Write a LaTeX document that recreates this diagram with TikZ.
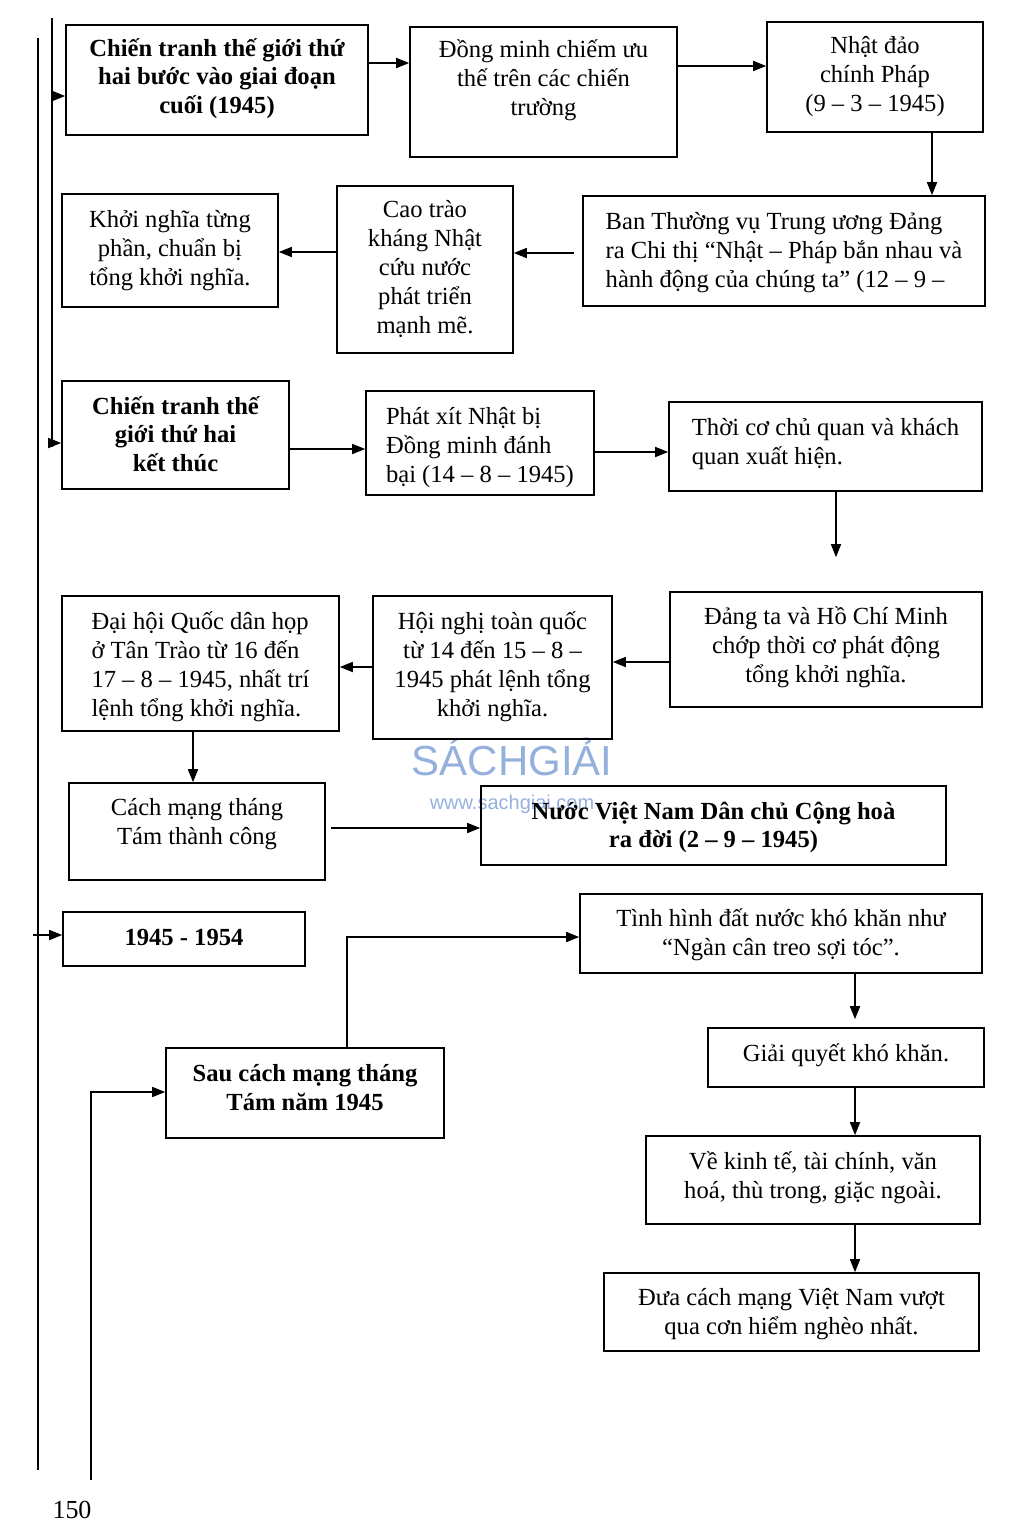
\documentclass[tikz,border=0pt]{standalone}
\usepackage{fontspec}
\setmainfont{Liberation Serif}
\newfontfamily\wmfont{Liberation Sans}
\usetikzlibrary{arrows.meta,fit}
\definecolor{wmblue}{RGB}{150,176,222}
\newcommand{\tb}[2][0pt]{\raisebox{\dimexpr#1-4.1pt\relax}[0pt][0pt]{\begin{tabular}{@{}c@{}}#2\end{tabular}}}
\newcommand{\tbl}[2][0pt]{\raisebox{\dimexpr#1-4.1pt\relax}[0pt][0pt]{\begin{tabular}{@{}l@{}}#2\end{tabular}}}
\tikzset{
  x=0.5pt,y=-0.5pt,
  box/.style={draw,line width=0.8pt,inner sep=0pt,font=\fontsize{12.3}{14.5}\selectfont},
  bbox/.style={box,font=\fontsize{12.3}{14.3}\selectfont\bfseries},
  arr/.style={-{Triangle[length=6.5pt,width=5pt]},line width=0.8pt},
  ln/.style={line width=0.9pt}
}
\begin{document}
\begin{tikzpicture}
\useasboundingbox (0,0) rectangle (1024,1537);
% watermark
\node[text=wmblue,font=\wmfont\fontsize{21}{21}\selectfont,inner sep=0pt] (wm1) at (512,757) {SÁCHGIẢI};
\node[text=wmblue,font=\wmfont\fontsize{10}{10}\selectfont,inner sep=0pt] (wm2) at (512,804) {www.sachgiai.com};
% boxes
\node[bbox,fit={(66,25) (368,135)}] (A) {\tb[1.5pt]{Chiến tranh thế giới thứ\\hai bước vào giai đoạn\\cuối (1945)}};
\node[box,fit={(410,27) (677,157)}] (B) {\tb[6.8pt]{Đồng minh chiếm ưu\\thế trên các chiến\\trường}};
\node[box,fit={(767,22) (983,132)}] (C) {\tb[1.2pt]{Nhật đảo\\chính Pháp\\(9 – 3 – 1945)}};
\node[box,fit={(583,196) (985,306)}] (D) {\tbl[0.5pt]{Ban Thường vụ Trung ương Đảng\\ra Chi thị “Nhật – Pháp bắn nhau và\\hành động của chúng ta” (12 – 9 –}};
\node[box,fit={(337,186) (513,353)}] (E) {\tb[0.8pt]{Cao trào\\kháng Nhật\\cứu nước\\phát triển\\mạnh mẽ.}};
\node[box,fit={(62,194) (278,307)}] (F) {\tb[1.2pt]{Khởi nghĩa từng\\phần, chuẩn bị\\tổng khởi nghĩa.}};
\node[bbox,fit={(62,381) (289,489)}] (G) {\tb[0pt]{Chiến tranh thế\\giới thứ hai\\kết thúc}};
\node[box,fit={(366,391) (594,495)}] (H) {\tbl[-1pt]{Phát xít Nhật bị\\Đồng minh đánh\\bại (14 – 8 – 1945)}};
\node[box,fit={(669,402) (982,491)}] (I) {\tbl[2.5pt]{Thời cơ chủ quan và khách\\quan xuất hiện.}};
\node[box,fit={(670,592) (982,707)}] (J) {\tb[1.8pt]{Đảng ta và Hồ Chí Minh\\chớp thời cơ phát động\\tổng khởi nghĩa.}};
\node[box,fit={(373,596) (612,739)}] (K) {\tb[1.5pt]{Hội nghị toàn quốc\\từ 14 đến 15 – 8 –\\1945 phát lệnh tổng\\khởi nghĩa.}};
\node[box,fit={(62,596) (339,731)}] (L) {\tbl[-0.8pt]{Đại hội Quốc dân họp\\ở Tân Trào từ 16 đến\\17 – 8 – 1945, nhất trí\\lệnh tổng khởi nghĩa.}};
\node[box,fit={(69,783) (325,880)}] (M) {\tb[4.8pt]{Cách mạng tháng\\Tám thành công}};
\node[bbox,fit={(481,786) (946,865)}] (N) {\tb[0pt]{Nước Việt Nam Dân chủ Cộng hoà\\ra đời (2 – 9 – 1945)}};
\node[bbox,fit={(63,912) (305,966)}] (O) {\tb[0.5pt]{1945 - 1954}};
\node[box,fit={(580,894) (982,973)}] (P) {\tb[0.5pt]{Tình hình đất nước khó khăn như\\“Ngàn cân treo sợi tóc”.}};
\node[bbox,fit={(166,1048) (444,1138)}] (Q) {\tb[2.5pt]{Sau cách mạng tháng\\Tám năm 1945}};
\node[box,fit={(708,1028) (984,1087)}] (R) {\tb[2.2pt]{Giải quyết khó khăn.}};
\node[box,fit={(646,1136) (980,1224)}] (S) {\tb[2.2pt]{Về kinh tế, tài chính, văn\\hoá, thù trong, giặc ngoài.}};
\node[box,fit={(604,1273) (979,1351)}] (T) {\tb[0pt]{Đưa cách mạng Việt Nam vượt\\qua cơn hiểm nghèo nhất.}};
\node[inner sep=0pt,font=\fontsize{13}{13}\selectfont] (pg) at (72,1510) {150};
% left rails
\coordinate (o1) at (38,38);
\coordinate (o2) at (38,1470);
\coordinate (i1) at (52,18);
\coordinate (i2) at (52,447);
\coordinate (oa) at (33,935);
\coordinate (q1) at (91,1480);
\draw[ln] (o1) -- (o2);
\draw[ln] (i1) -- (i2);
\draw[arr] (i1|-0,96) -- (A.west|-0,96);
\draw[arr] (i1|-0,443) -- (G.west|-0,443);
\draw[arr] (oa) -- (O.west|-0,935);
\draw[arr] (q1) |- (Q.west|-0,1092);
% connectors
\draw[arr] (A.east|-0,63) -- (B.west|-0,63);
\draw[arr] (B.east|-0,66) -- (C.west|-0,66);
\draw[arr] (C.south-|932,0) -- (D.north-|932,0);
\draw[arr,shorten <=4pt] (D.west|-0,253) -- (E.east|-0,253);
\draw[arr] (E.west|-0,252) -- (F.east|-0,252);
\draw[arr] (G.east|-0,449) -- (H.west|-0,449);
\draw[arr] (H.east|-0,452) -- (I.west|-0,452);
\draw[arr,shorten >=17pt] (I.south-|836,0) -- (J.north-|836,0);
\draw[arr] (J.west|-0,662) -- (K.east|-0,662);
\draw[arr] (K.west|-0,667) -- (L.east|-0,667);
\draw[arr] (L.south-|193,0) -- (M.north-|193,0);
\draw[arr,shorten <=2.5pt] (M.east|-0,828) -- (N.west|-0,828);
\draw[arr] (Q.north-|347,0) |- (P.west|-0,937);
\draw[arr,shorten >=4pt] (P.south-|855,0) -- (R.north-|855,0);
\draw[arr] (R.south-|855,0) -- (S.north-|855,0);
\draw[arr] (S.south-|855,0) -- (T.north-|855,0);
\end{tikzpicture}
\end{document}
